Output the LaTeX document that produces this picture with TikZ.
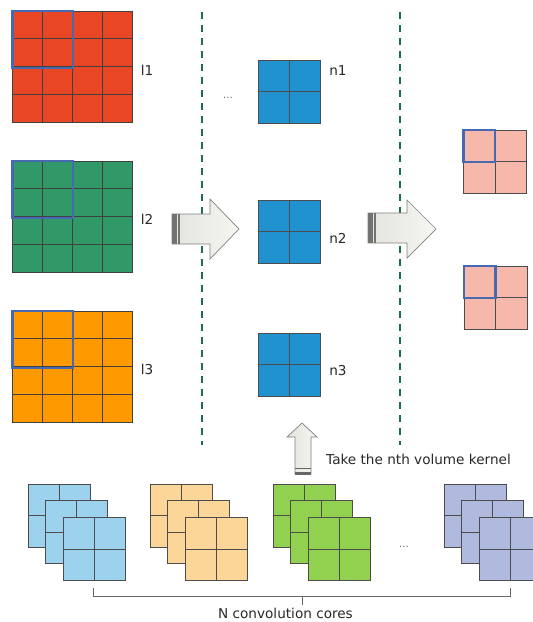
\documentclass[tikz,border=0pt]{standalone}
\usepackage{fontspec}
\setmainfont{DejaVu Sans}
\definecolor{cred}{RGB}{232,70,36}
\definecolor{cgreen}{RGB}{48,153,103}
\definecolor{corange}{RGB}{255,153,0}
\definecolor{cblue}{RGB}{32,146,208}
\definecolor{cpink}{RGB}{245,184,170}
\definecolor{klblue}{RGB}{156,210,238}
\definecolor{klorange}{RGB}{252,213,152}
\definecolor{klgreen}{RGB}{146,208,80}
\definecolor{klpurple}{RGB}{176,186,222}
\definecolor{hlblue}{RGB}{70,105,178}
\definecolor{dgreen}{RGB}{28,112,72}
\definecolor{arrowL}{RGB}{226,228,220}
\definecolor{arrowR}{RGB}{246,246,242}
\definecolor{txt}{RGB}{40,40,40}
\tikzset{
  gl/.style={draw=black!75, line width=0.9pt},
  kl/.style={draw=black!70, line width=0.8pt},
  hl/.style={draw=hlblue, line width=2.4pt},
  blockarrow/.style={draw=black!50, line width=0.7pt, left color=arrowL, right color=arrowR},
  lbl/.style={font=\fontsize{13.6}{15}\selectfont, text=txt, inner sep=0pt},
  dots/.style={font=\fontsize{10}{11}\selectfont, text=black!60, inner sep=0pt},
  divider/.style={draw=dgreen, line width=1.6pt, dash pattern=on 7pt off 6pt},
  brace/.style={draw=black!60, line width=0.9pt},
}
\newcommand{\bigmap}[3]{%
  \begin{scope}[shift={(#1,#2)}]
    \fill[#3] (0,0) rectangle (120,111);
    \foreach \k in {30,60,90} \draw[gl] (\k,0) -- (\k,111);
    \foreach \k in {27.75,55.5,83.25} \draw[gl] (0,\k) -- (120,\k);
    \draw[gl] (0,0) rectangle (120,111);
    \draw[hl] (0,0) rectangle (60.5,57);
  \end{scope}}
\newcommand{\ksq}[3]{%
  \begin{scope}[shift={(#1,#2)}]
    \fill[#3] (0,0) rectangle (62,63);
    \draw[kl] (31,0) -- (31,63) (0,31.5) -- (62,31.5);
    \draw[kl] (0,0) rectangle (62,63);
  \end{scope}}
\newcommand{\kstack}[3]{%
  \ksq{#1}{#2}{#3}
  \ksq{#1+17.5}{#2+16.7}{#3}
  \ksq{#1+35}{#2+33.4}{#3}}
\newcommand{\pinksq}[2]{%
  \begin{scope}[shift={(#1,#2)}]
    \fill[cpink] (0,0) rectangle (63,63);
    \draw[kl] (31.5,0) -- (31.5,63) (0,31.5) -- (63,31.5);
    \draw[kl] (0,0) rectangle (63,63);
    \draw[hl] (0,0) rectangle (31.5,32);
  \end{scope}}
\begin{document}
\begin{tikzpicture}[x=1pt,y=-1pt]
\clip (0,0) rectangle (533,622);
\fill[white] (0,0) rectangle (533,622);

% input feature maps
\bigmap{12.5}{11}{cred}
\bigmap{12.5}{161}{cgreen}
\bigmap{12.5}{311}{corange}
\node[lbl] (l1) at (147,70) {l1};
\node[lbl] (l2) at (147,219) {l2};
\node[lbl] (l3) at (147,369) {l3};

% dividers
\coordinate (d1t) at (202,12);
\coordinate (d1b) at (202,445);
\coordinate (d2t) at (400,12);
\coordinate (d2b) at (400,445);
\draw[divider] (d1t) -- (d1b);
\draw[divider] (d2t) -- (d2b);

% block arrow 1
\path[blockarrow] (172,214) -- (210,214) -- (210,199) -- (239,229) -- (210,259) -- (210,244) -- (172,244) -- cycle;
\fill[black!55] (172,214) rectangle (176.5,244);
\draw[black!55, line width=1.2pt] (179,214) -- (179,244);

% middle kernels
\ksq{258}{60}{cblue}
\ksq{258}{200}{cblue}
\ksq{258}{333}{cblue}
\node[lbl] (n1) at (338,71) {n1};
\node[lbl] (n2) at (338,238) {n2};
\node[lbl] (n3) at (338,371) {n3};
\node[dots] (dotsA) at (228,98) {...};

% block arrow 2
\path[blockarrow] (368,213) -- (407,213) -- (407,200) -- (436,229) -- (407,258) -- (407,243) -- (368,243) -- cycle;
\fill[black!55] (368,213) rectangle (372.5,243);
\draw[black!55, line width=1.2pt] (375,213) -- (375,243);

% outputs
\pinksq{463.5}{130}
\pinksq{464}{266}

% up arrow
\path[blockarrow] (295,474) -- (295,437) -- (287,437) -- (302,423) -- (317,437) -- (311,437) -- (311,474) -- cycle;
\fill[black!60] (295,471.5) rectangle (311,474.5);
\draw[black!60, line width=1pt] (295,468.5) -- (311,468.5);
\node[lbl, anchor=west] (take) at (326,459) {Take the nth volume kernel};

% convolution cores
\kstack{28}{484}{klblue}
\kstack{150}{484}{klorange}
\kstack{273}{484}{klgreen}
\kstack{444}{484}{klpurple}
\node[dots] (dotsB) at (404,547) {...};

% brace
\coordinate (bl) at (93,588);
\coordinate (br) at (510,588);
\coordinate (bm) at (302,596);
\draw[brace] (bl) -- (93,596) -- (510,596) -- (br);
\draw[brace] (bm) -- (302,605);
\node[lbl] (ncc) at (285.5,613) {N convolution cores};
\end{tikzpicture}
\end{document}
